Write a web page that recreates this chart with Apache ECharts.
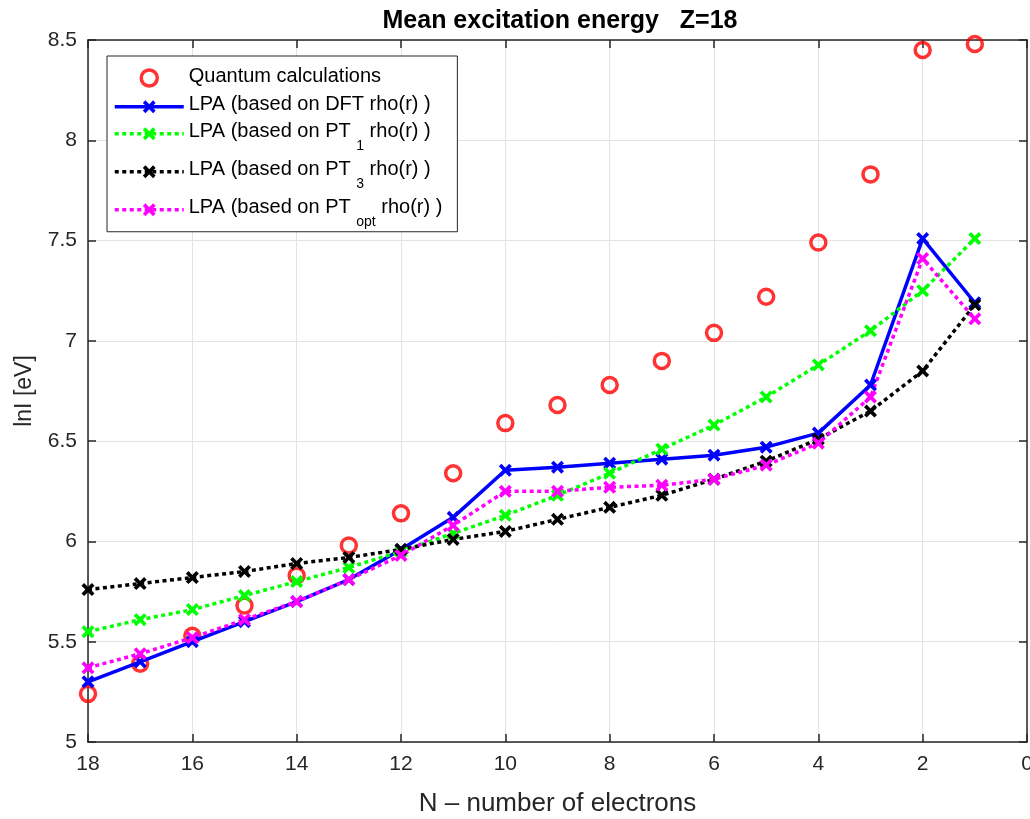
<!DOCTYPE html>
<html>
<head>
<meta charset="utf-8">
<title>Mean excitation energy Z=18</title>
<script src="https://cdn.jsdelivr.net/npm/echarts@6/dist/echarts.min.js"></script>
<style>
  html, body { margin: 0; padding: 0; background: #fff; }
  #chart { width: 1030px; height: 819px; }
</style>
</head>
<body>
<div id="chart"></div>
<script>
// number of electrons (x axis, reversed)
const electrons = [18, 17, 16, 15, 14, 13, 12, 11, 10, 9, 8, 7, 6, 5, 4, 3, 2, 1]

// lnI [eV] values
const quantum = [5.24, 5.39, 5.53, 5.68, 5.83, 5.98, 6.14, 6.34, 6.59, 6.68, 6.78, 6.90, 7.04, 7.22, 7.49, 7.83, 8.45, 8.48]
const lpaDft = [5.30, 5.40, 5.50, 5.60, 5.70, 5.81, 5.96, 6.12, 6.355, 6.37, 6.39, 6.41, 6.43, 6.47, 6.54, 6.78, 7.51, 7.19]
const lpaPt1 = [5.55, 5.61, 5.66, 5.73, 5.80, 5.87, 5.95, 6.04, 6.13, 6.23, 6.34, 6.46, 6.58, 6.72, 6.88, 7.05, 7.25, 7.51]
const lpaPt3 = [5.76, 5.79, 5.82, 5.85, 5.89, 5.92, 5.96, 6.01, 6.05, 6.11, 6.17, 6.23, 6.31, 6.40, 6.51, 6.65, 6.85, 7.18]
const lpaPtOpt = [5.37, 5.44, 5.52, 5.61, 5.70, 5.81, 5.93, 6.08, 6.25, 6.25, 6.27, 6.28, 6.31, 6.38, 6.49, 6.72, 7.41, 7.11]

const yTicks = ['5', '5.5', '6', '6.5', '7', '7.5', '8', '8.5']

const font = '"Liberation Sans", Arial, sans-serif'
const axisColor = '#262626'
const gridColor = '#e3e3e3'
// filled "x" marker
const crossMark = 'path://M0,2 L2,0 L5,3 L8,0 L10,2 L7,5 L10,8 L8,10 L5,7 L2,10 L0,8 L3,5 Z'

const pairs = vals => electrons.map((n, i) => [n, vals[i]])

// legend labels with subscripts (rich text)
const legendText = {
  'Quantum calculations': '{t|Quantum calculations}',
  'LPA (based on DFT rho(r) )': '{t|LPA (based on DFT rho(r) )}',
  'LPA (based on PT1 rho(r) )': '{t|LPA (based on PT }{s|1}{t| rho(r) )}',
  'LPA (based on PT3 rho(r) )': '{t|LPA (based on PT }{s|3}{t| rho(r) )}',
  'LPA (based on PTopt rho(r) )': '{t|LPA (based on PT }{s|opt}{t| rho(r) )}'
}

function lineSeries(name, vals, color, dotted) {
  return {
    name: name,
    type: 'line',
    data: pairs(vals),
    symbol: crossMark,
    symbolSize: 13,
    showSymbol: true,
    itemStyle: { color: color },
    lineStyle: { color: color, width: 3.5, type: dotted ? [4, 3.5] : 'solid' },
    emphasis: { disabled: true },
    z: 3
  }
}

const chart = echarts.init(document.getElementById('chart'))

const xBase = {
  type: 'value', min: 0, max: 18, interval: 2, inverse: true,
  axisLine: { show: true, onZero: false, lineStyle: { color: axisColor, width: 1.5 } },
  axisTick: { show: true, inside: true, length: 8, lineStyle: { color: axisColor, width: 1.5 } }
}
const yBase = {
  type: 'value', min: 5, max: 8.5, interval: 0.5,
  axisLine: { show: true, onZero: false, lineStyle: { color: axisColor, width: 1.5 } },
  axisTick: { show: true, inside: true, length: 8, lineStyle: { color: axisColor, width: 1.5 } }
}

const legendData = Object.keys(legendText).map(name =>
  name === 'Quantum calculations'
    ? { name: name, itemStyle: { borderWidth: 3.5 } }
    : { name: name }
)

chart.setOption({
  backgroundColor: '#fff',
  animation: false,
  title: {
    text: 'Mean excitation energy   Z=18',
    left: 555, top: 4, textAlign: 'center',
    textStyle: { fontFamily: font, fontSize: 25, fontWeight: 'bold', color: '#000' }
  },
  grid: { left: 88, right: 3, top: 40, bottom: 77, containLabel: false, outerBoundsMode: 'none' },
  legend: {
    orient: 'vertical',
    left: 107, top: 56,
    padding: [10, 15, 3, 6],
    itemGap: 7,
    itemWidth: 69,
    itemHeight: 16,
    backgroundColor: '#fff',
    borderColor: '#262626',
    borderWidth: 1,
    borderRadius: 0,
    lineStyle: { width: 3.5 },
    formatter: name => legendText[name],
    textStyle: {
      rich: {
        t: { fontFamily: font, fontSize: 20, color: '#000', verticalAlign: 'top', lineHeight: 24 },
        s: { fontFamily: font, fontSize: 14, color: '#000', verticalAlign: 'top', padding: [17, 0, 0, 0], lineHeight: 15 }
      }
    },
    data: legendData
  },
  xAxis: [
    Object.assign({}, xBase, {
      position: 'bottom',
      name: 'N – number of electrons',
      nameLocation: 'middle',
      nameGap: 49,
      nameTextStyle: { fontFamily: font, fontSize: 26, color: axisColor },
      axisLabel: { margin: 12, fontFamily: font, fontSize: 21, color: axisColor },
      splitLine: { show: true, lineStyle: { color: gridColor, width: 1 } }
    }),
    Object.assign({}, xBase, {
      position: 'top',
      axisLabel: { show: false },
      splitLine: { show: false }
    })
  ],
  yAxis: [
    Object.assign({}, yBase, {
      position: 'left',
      name: 'lnI [eV]',
      nameLocation: 'middle',
      nameGap: 52,
      nameRotate: 90,
      nameTextStyle: { fontFamily: font, fontSize: 23, color: axisColor },
      axisLabel: {
        margin: 11, fontFamily: font, fontSize: 21, color: axisColor,
        formatter: v => yTicks[Math.round((v - 5) / 0.5)]
      },
      splitLine: { show: true, lineStyle: { color: gridColor, width: 1 } }
    }),
    Object.assign({}, yBase, {
      position: 'right',
      axisLabel: { show: false },
      splitLine: { show: false }
    })
  ],
  series: [
    {
      name: 'Quantum calculations',
      type: 'scatter',
      data: pairs(quantum),
      symbol: 'circle',
      symbolSize: 15,
      itemStyle: { color: 'rgba(0,0,0,0)', borderColor: '#ff0000', borderWidth: 3.5 },
      emphasis: { disabled: true },
      z: 2
    },
    lineSeries('LPA (based on DFT rho(r) )', lpaDft, '#0000ff', false),
    lineSeries('LPA (based on PT1 rho(r) )', lpaPt1, '#00ff00', true),
    lineSeries('LPA (based on PT3 rho(r) )', lpaPt3, '#000000', true),
    lineSeries('LPA (based on PTopt rho(r) )', lpaPtOpt, '#ff00ff', true)
  ]
})
</script>
</body>
</html>
